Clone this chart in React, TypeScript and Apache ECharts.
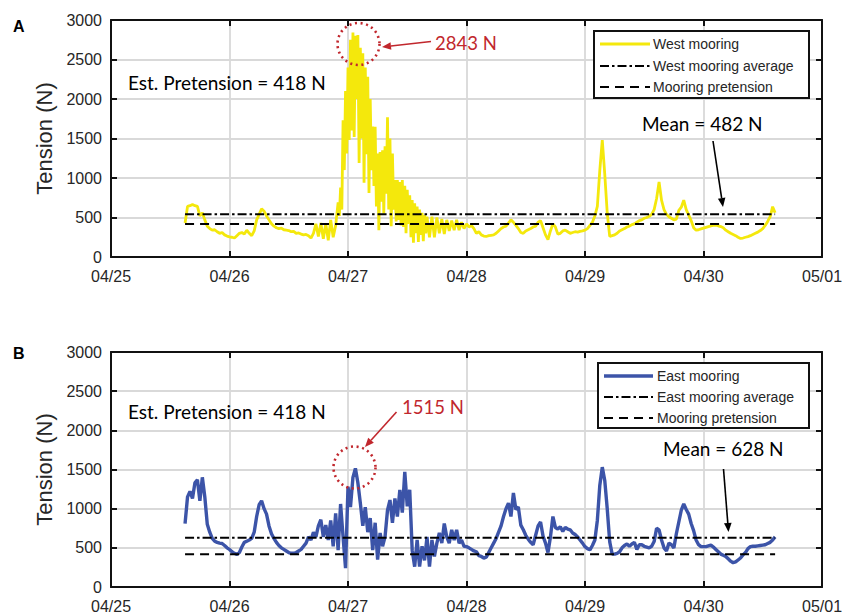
import React, { useEffect, useRef } from "react";
import * as echarts from "echarts";

// ---------- data ----------
const dateLabels = ["04/25", "04/26", "04/27", "04/28", "04/29", "04/30", "05/01"];

// West mooring: three pieces sampled at different steps (hours after 04/25 00:00)
const westHeadStart = 15;
const westHeadStep = 0.5;
const westHead = [
  430, 640, 650, 665, 650, 640, 520, 560, 470, 390, 360, 340, 345, 320, 300, 310, 280, 265,
  255, 250, 240, 270, 300, 310, 290, 340, 300, 270, 330, 470, 540, 610, 580, 520, 470, 420,
  390, 370, 360, 365, 345, 340, 335, 320, 325, 300, 305, 290, 280, 285, 270, 240, 300, 420,
  260, 430, 230, 420, 210, 470, 250, 400,
];
const westPeakStart = 46;
const westPeakStep = 0.25;
const westPeak = [
  690, 520, 880, 600, 1730, 1100, 2100, 1310, 2400, 1480, 2750, 1600, 2843, 1520, 2800, 2000,
  2810, 1190, 2650, 1500, 2580, 940, 2400, 1300, 2280, 810, 2000, 1100, 1650, 900, 1650, 640,
  1310, 340, 1330, 700, 1350, 550, 1400, 800, 1770, 600, 1500, 390, 1310, 600, 975, 450,
  975, 470, 950, 400, 975, 380, 900, 300, 850, 420, 780, 250, 720, 180, 680, 300,
  640, 190, 600, 280, 560, 200, 530, 300, 510,
];
const westTailStart = 64.5;
const westTailStep = 0.5;
const westTail = [
  250, 510, 250, 500, 300, 480, 290, 470, 330, 460, 340, 470, 340, 440, 360, 420, 380, 400, 360,
  300, 320, 280, 265, 260, 270, 275, 280, 300, 330, 360, 380, 390, 430, 470, 440, 400, 360,
  310, 300, 330, 345, 360, 380, 390, 440, 460, 370, 280, 220, 330, 420, 380, 290, 300, 330,
  340, 320, 300, 310, 320, 315, 325, 330, 340, 360, 400, 440, 520, 640, 1100, 1480, 1050, 560,
  260, 270, 280, 300, 330, 345, 360, 380, 390, 410, 420, 440, 460, 470, 490, 500, 515, 540,
  600, 740, 950, 720, 600, 540, 510, 490, 470, 480, 590, 630, 720, 600, 530, 460, 370, 340,
  345, 355, 365, 375, 385, 395, 400, 405, 395, 385, 370, 340, 320, 300, 285, 270, 250, 235,
  240, 250, 258, 270, 285, 300, 315, 335, 360, 400, 450, 510, 637, 560,
];

// East mooring, sampled every 0.5 h from 15 h after 04/25 00:00
const eastStart = 15;
const eastStep = 0.5;
const eastValues = [
  810, 1150, 1220, 1130, 1330, 1370, 1100, 1400, 1150, 800, 700, 620, 585, 570, 560, 555, 530, 500,
  480, 450, 430, 415, 440, 510, 570, 585, 600, 620, 700, 900, 1050, 1100, 1000, 930, 780, 680,
  620, 570, 530, 500, 480, 460, 440, 430, 430, 440, 460, 480, 520, 560, 640, 600, 700, 640,
  780, 860, 640, 790, 600, 850, 520, 940, 470, 1060, 640, 240, 1280, 1020, 1400, 1515, 1330, 1070,
  780, 1020, 700, 880, 470, 820, 350, 690, 520, 640, 980, 1110, 820, 1130, 900, 1240, 950, 1470,
  1030, 1240, 470, 260, 600, 260, 520, 340, 640, 260, 600, 390, 560, 690, 560, 810, 640, 560,
  730, 600, 730, 560, 600, 520, 515, 500, 480, 460,
  450, 400, 390, 370, 380, 440, 500, 560, 620, 700, 780, 900, 1000, 1070, 900, 1200, 990, 1020,
  790, 730, 660, 610, 570, 540, 660, 780, 830, 650, 560, 440, 640, 900, 760, 740, 770, 710,
  760, 740, 730, 690, 670, 640, 600, 560, 515, 490, 475, 530, 600, 850, 1300, 1530, 1360, 1000,
  580, 420, 420, 430, 450, 500, 530, 550, 520, 550, 570, 480, 540, 540, 520, 510, 500, 520,
  580, 750, 730, 600, 500, 460, 560, 540, 500, 680, 830, 980, 1060, 990, 930, 810, 720, 600,
  540, 515, 515, 515, 525, 535, 510, 480, 450, 420, 405, 390, 360, 330, 310, 320, 345, 370,
  410, 440, 490, 515, 520, 520, 525, 530, 535, 540, 555, 570, 600, 640,
];

const westAverage = 542;
const eastAverage = 628;
const pretension = 418;
const recordStart = 15;
const recordEnd = 134.5;

// ---------- helpers ----------
const toPoints = (vals: number[], start: number, step: number) => vals.map((v, i) => [start + i * step, v]);
const flat = (v: number) => [
  [recordStart, v],
  [recordEnd, v],
];

const RED = "#C1272D";
const TXT = "#262626";
const SANS = "Liberation Sans, Arial, sans-serif";
const CAL = "Lato, 'Open Sans', sans-serif";
const DASHDOT = [9, 3, 2.5, 3];
const DASHED = [9, 6];

function arrow(x1: number, y1: number, x2: number, y2: number, color: string, w: number) {
  const dx = x2 - x1;
  const dy = y2 - y1;
  const len = Math.hypot(dx, dy);
  const ux = dx / len;
  const uy = dy / len;
  const L = 9;
  const W = 3.8;
  const bx = x2 - ux * L;
  const by = y2 - uy * L;
  return [
    { type: "line", z: 100, shape: { x1, y1, x2: bx, y2: by }, style: { stroke: color, lineWidth: w } },
    {
      type: "polygon",
      z: 100,
      shape: { points: [[x2, y2], [bx - uy * W, by + ux * W], [bx + uy * W, by - ux * W]] },
      style: { fill: color },
    },
  ];
}

function legend(x: number, y: number, w: number, h: number, lx1: number, lx2: number, tx: number, rows: number[], color: string, lw: number, names: string[]) {
  const els: any[] = [
    { type: "rect", z: 100, shape: { x, y, width: w, height: h }, style: { fill: "#fff", stroke: "#111", lineWidth: 2 } },
  ];
  const dashes: any[] = [null, DASHDOT, DASHED];
  rows.forEach((ry, i) => {
    els.push({
      type: "line",
      z: 101,
      shape: { x1: lx1, y1: ry, x2: lx2, y2: ry },
      style: { stroke: i === 0 ? color : "#000", lineWidth: i === 0 ? lw : 2, lineDash: dashes[i] || undefined },
    });
    els.push({
      type: "text",
      z: 101,
      x: tx,
      y: ry,
      style: { text: names[i], font: `14px ${SANS}`, fill: TXT, verticalAlign: "middle" },
    });
  });
  return els;
}

function text(x: number, y: number, t: string, font: string, fill: string) {
  return { type: "text", z: 100, x, y, style: { text: t, font, fill, verticalAlign: "middle" } };
}

function circle(cx: number, cy: number) {
  return {
    type: "circle",
    z: 100,
    shape: { cx, cy, r: 21 },
    style: { fill: "none", stroke: RED, lineWidth: 2.6, lineDash: [2, 3.6] },
  };
}

export default function App() {
  const ref = useRef<HTMLDivElement>(null);
  useEffect(() => {
    if (!ref.current) return;
    const chart = echarts.init(ref.current, null, { renderer: "svg" });

    const grids = [
      { left: 111, top: 20, width: 711, height: 237 },
      { left: 111, top: 352, width: 711, height: 235 },
    ];

    const frameLine = () => ({ show: true, onZero: false, lineStyle: { color: "#111", width: 2 } });
    const tick = () => ({ show: true, inside: true, length: 6, lineStyle: { color: "#111", width: 2 } });

    const xAxes: any[] = [];
    const yAxes: any[] = [];
    grids.forEach((_, gi) => {
      xAxes.push({
        type: "value",
        gridIndex: gi,
        min: 0,
        max: 144,
        interval: 24,
        position: "bottom",
        axisLine: frameLine(),
        axisTick: tick(),
        axisLabel: {
          show: true,
          margin: 11,
          fontSize: 16,
          fontFamily: SANS,
          color: TXT,
          formatter: (v: number) => dateLabels[Math.round(v / 24)] ?? "",
        },
        splitLine: { show: true, lineStyle: { color: "#d9d9d9", width: 1.8 } },
      });
      xAxes.push({
        type: "value",
        gridIndex: gi,
        min: 0,
        max: 144,
        interval: 24,
        position: "top",
        axisLine: frameLine(),
        axisTick: tick(),
        axisLabel: { show: false },
        splitLine: { show: false },
      });
      yAxes.push({
        type: "value",
        gridIndex: gi,
        min: 0,
        max: 3000,
        interval: 500,
        position: "left",
        name: "Tension (N)",
        nameLocation: "middle",
        nameGap: 48,
        nameTextStyle: { fontSize: 22, fontFamily: SANS, color: TXT },
        axisLine: frameLine(),
        axisTick: tick(),
        axisLabel: { show: true, margin: 9, fontSize: 16, fontFamily: SANS, color: TXT, formatter: (v: number) => String(v) },
        splitLine: { show: true, lineStyle: { color: "#d9d9d9", width: 1.8 } },
      });
      yAxes.push({
        type: "value",
        gridIndex: gi,
        min: 0,
        max: 3000,
        interval: 500,
        position: "right",
        axisLine: frameLine(),
        axisTick: tick(),
        axisLabel: { show: false },
        splitLine: { show: false },
      });
    });

    const lineSeries = (name: string, data: any, xi: number, yi: number, color: string, width: number, type: any) => ({
      name,
      type: "line",
      xAxisIndex: xi,
      yAxisIndex: yi,
      data,
      showSymbol: false,
      symbol: "none",
      lineStyle: { color, width, type },
      silent: true,
    });

    const YELLOW = "#F4E80C";
    const BLUE = "#3C54A8";

    const westData = [
      ...toPoints(westHead, westHeadStart, westHeadStep),
      ...toPoints(westPeak, westPeakStart, westPeakStep),
      ...toPoints(westTail, westTailStart, westTailStep),
    ];

    const graphic: any[] = [
      text(13, 26, "A", `bold 16px ${SANS}`, "#000"),
      text(13, 353, "B", `bold 16px ${SANS}`, "#000"),
      text(128, 82, "Est. Pretension = 418 N", `19px ${CAL}`, "#000"),
      text(128, 411, "Est. Pretension = 418 N", `19px ${CAL}`, "#000"),
      text(435, 43, "2843 N", `18.5px ${CAL}`, RED),
      text(402, 407, "1515 N", `18.5px ${CAL}`, RED),
      text(642, 123, "Mean = 482 N", `19px ${CAL}`, "#000"),
      text(663, 448, "Mean = 628 N", `19px ${CAL}`, "#000"),
      circle(358.5, 44),
      circle(354.5, 467.5),
      ...arrow(431, 41.5, 382, 47, RED, 1.6),
      ...arrow(396.5, 412, 365, 447, RED, 1.6),
      ...arrow(713, 141, 723, 207, "#000", 1.6),
      ...arrow(723.5, 469, 728.5, 532, "#000", 1.6),
      ...legend(594, 31, 215, 67, 600, 650, 653, [44, 66, 87], YELLOW, 3, [
        "West mooring",
        "West mooring average",
        "Mooring pretension",
      ]),
      ...legend(598, 363, 211, 65, 604, 653, 657, [376, 397, 418], BLUE, 3.5, [
        "East mooring",
        "East mooring average",
        "Mooring pretension",
      ]),
    ];

    chart.setOption({
      animation: false,
      grid: grids.map((g) => ({ ...g, show: false, outerBoundsMode: "none", containLabel: false })),
      xAxis: xAxes,
      yAxis: yAxes,
      series: [
        lineSeries("West mooring", westData, 0, 0, YELLOW, 2.8, "solid"),
        lineSeries("West mooring average", flat(westAverage), 1, 1, "#000", 2, DASHDOT),
        lineSeries("Mooring pretension", flat(pretension), 1, 1, "#000", 2, DASHED),
        lineSeries("East mooring", toPoints(eastValues, eastStart, eastStep), 2, 2, BLUE, 3.4, "solid"),
        lineSeries("East mooring average", flat(eastAverage), 3, 3, "#000", 2, DASHDOT),
        lineSeries("Mooring pretension B", flat(pretension), 3, 3, "#000", 2, DASHED),
      ],
      graphic,
    });
    return () => chart.dispose();
  }, []);

  return (
    <div
      ref={ref}
      style={{ position: "absolute", left: 0, top: 0, width: 842, height: 614, background: "#fff" }}
    />
  );
}
